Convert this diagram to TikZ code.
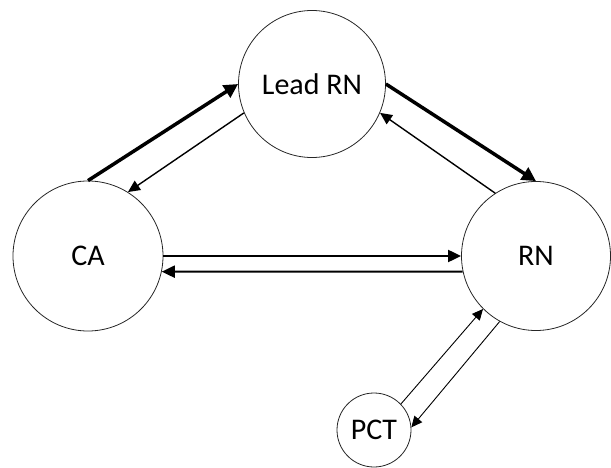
\documentclass[tikz,border=0pt]{standalone}
\usepackage{fontspec}
\setmainfont{Carlito}
\usetikzlibrary{arrows.meta}
\begin{document}
\begin{tikzpicture}[x=1pt,y=-1pt,
  state/.style={circle,draw=black!85,line width=0.8pt,inner sep=0pt,font=\fontsize{30}{32}\selectfont},
  thick arrow/.style={line width=3.5pt,-{Triangle[length=14pt,width=14pt]}},
  mid arrow/.style={line width=2pt,-{Triangle[length=13pt,width=12pt]}},
  thin arrow/.style={line width=1.4pt,-{Triangle[length=12pt,width=11pt]}},
  fine arrow/.style={line width=0.9pt,-{Triangle[length=11pt,width=10pt]}}]
\useasboundingbox (0,0) rectangle (611,468);
\node[state,minimum size=147pt] (lead) at (312,84) {Lead RN};
\node[state,minimum size=150pt] (ca) at (88,256) {CA};
\node[state,minimum size=149pt] (rn) at (536,256) {RN};
\node[state,minimum size=74pt] (pct) at (374,430) {PCT};
\draw[thick arrow] (ca.90) -- (lead.180);
\draw[thin arrow] (lead.203) -- (ca.58);
\draw[thick arrow] (lead.0) -- (rn.90);
\draw[thin arrow] (rn.123) -- (lead.-23);
\draw[mid arrow] (ca.0) -- (rn.180);
\draw[mid arrow] (rn.192.5) -- (ca.-12.5);
\draw[fine arrow] (pct.44) -- (rn.225);
\draw[fine arrow] (rn.241) -- (pct.4);
\end{tikzpicture}
\end{document}
